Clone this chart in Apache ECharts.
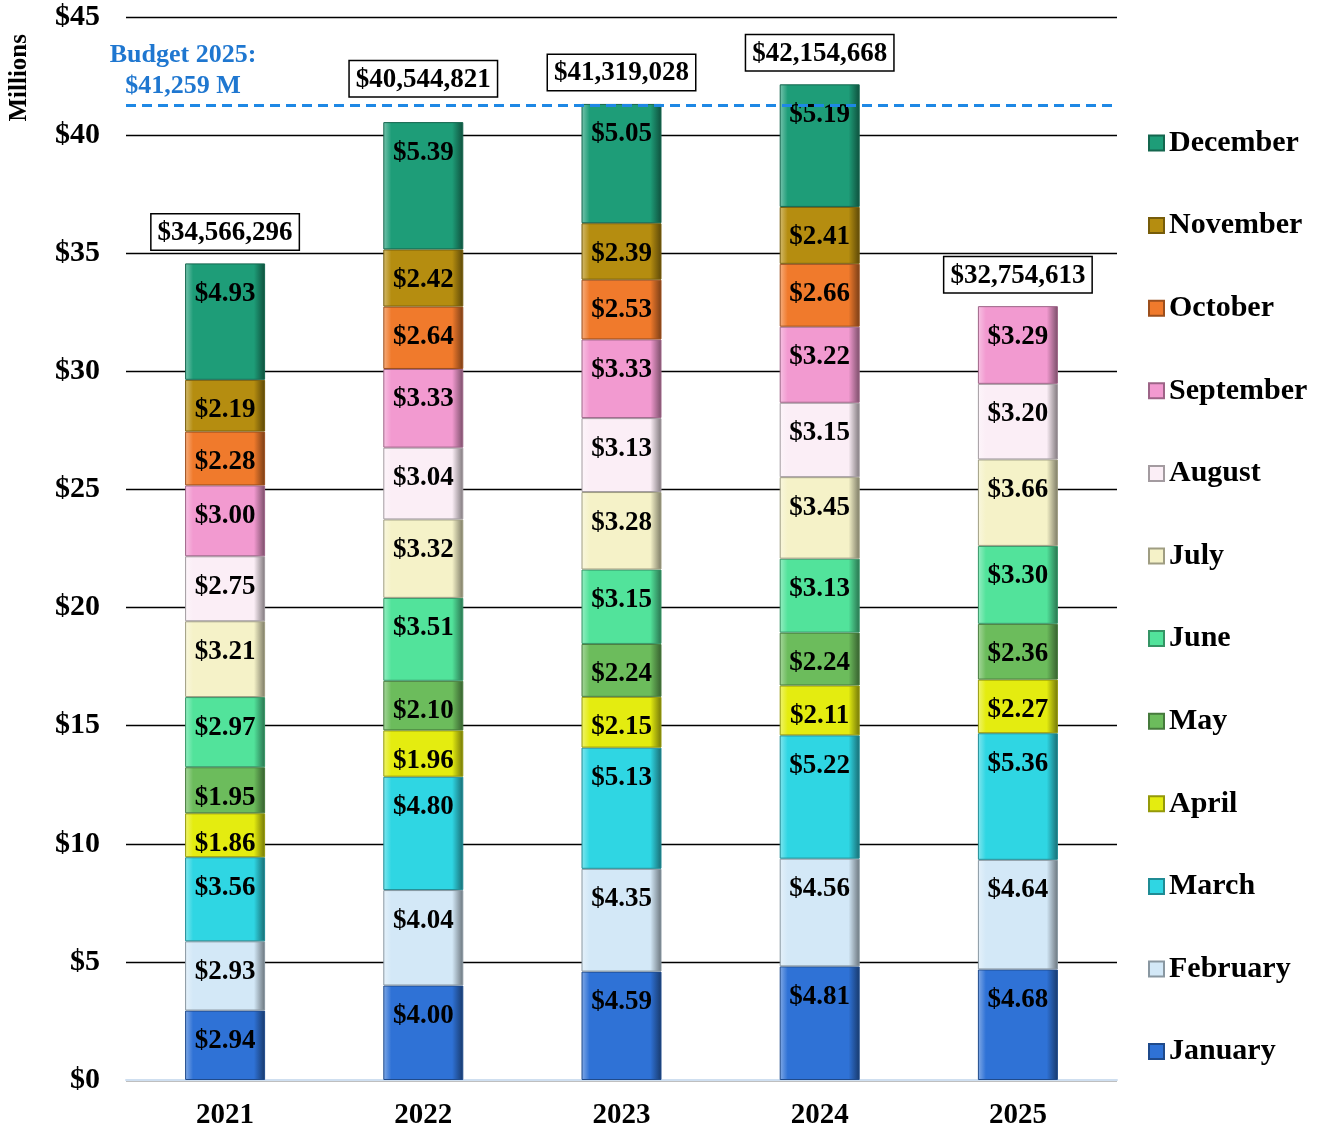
<!DOCTYPE html>
<html>
<head>
<meta charset="utf-8">
<script src="https://cdn.jsdelivr.net/npm/echarts@6/dist/echarts.min.js"></script>
<style>
  html, body { margin: 0; padding: 0; background: #fff; }
  #chart { width: 1321px; height: 1131px; }
</style>
</head>
<body>
<div id="chart"></div>
<script>
const years = ["2021", "2022", "2023", "2024", "2025"];
const months = ["January", "February", "March", "April", "May", "June",
  "July", "August", "September", "October", "November", "December"];
// monthly revenue in $ millions, one array per month (2021..2025)
const january = [2.94, 4.00, 4.59, 4.81, 4.68];
const february = [2.93, 4.04, 4.35, 4.56, 4.64];
const march = [3.56, 4.80, 5.13, 5.22, 5.36];
const april = [1.86, 1.96, 2.15, 2.11, 2.27];
const may = [1.95, 2.10, 2.24, 2.24, 2.36];
const june = [2.97, 3.51, 3.15, 3.13, 3.30];
const july = [3.21, 3.32, 3.28, 3.45, 3.66];
const august = [2.75, 3.04, 3.13, 3.15, 3.20];
const september = [3.00, 3.33, 3.33, 3.22, 3.29];
const october = [2.28, 2.64, 2.53, 2.66, null];
const november = [2.19, 2.42, 2.39, 2.41, null];
const december = [4.93, 5.39, 5.05, 5.19, null];
const totals = [34566296, 40544821, 41319028, 42154668, 32754613];
const budget = 41.259;
const yTicks = [0, 5, 10, 15, 20, 25, 30, 35, 40, 45];

const monthValues = [january, february, march, april, may, june,
  july, august, september, october, november, december];
const monthColors = ["#2f72d6", "#d3e8f7", "#2fd6e3", "#e4ec10", "#6cbc5c", "#52e39b",
  "#f5f2c8", "#fbeef6", "#f29ad0", "#f07a2c", "#b58d10", "#1e9d78"];

const serif = "'Times New Roman', 'Liberation Serif', serif";

function shade(hex, amt) {
  let n = parseInt(hex.slice(1), 16);
  let r = (n >> 16) & 255, g = (n >> 8) & 255, b = n & 255;
  const f = (c) => Math.max(0, Math.min(255, Math.round(amt > 0 ? c + (255 - c) * amt : c * (1 + amt))));
  return "rgb(" + f(r) + "," + f(g) + "," + f(b) + ")";
}

// bevel look: light left edge, dark right edge
function bevel(color) {
  return {
    type: "linear", x: 0, y: 0, x2: 1, y2: 0,
    colorStops: [
      { offset: 0, color: shade(color, 0.4) },
      { offset: 0.1, color: color },
      { offset: 0.86, color: color },
      { offset: 1, color: shade(color, -0.5) },
    ],
  };
}

const series = months.map((m, i) => ({
  name: m,
  type: "bar",
  stack: "total",
  barWidth: 80,
  data: monthValues[i],
  itemStyle: {
    color: bevel(monthColors[i]),
    borderColor: shade(monthColors[i], -0.35),
    borderWidth: 1,
  },
  label: {
    show: true,
    position: "insideTop",
    distance: 17,
    formatter: (p) => (p.value == null ? "" : "$" + p.value.toFixed(2)),
    color: "#000",
    fontFamily: serif,
    fontWeight: "bold",
    fontSize: 27,
  },
}));

// budget line on January series
series[0].markLine = {
  symbol: "none",
  silent: true,
  lineStyle: { color: "#1e88e5", type: [10, 6], width: 3 },
  data: [{ yAxis: budget }],
  label: {
    show: true,
    position: "insideStartTop",
    distance: [57, 4],
    formatter: "Budget 2025:\n$41,259 M",
    color: "#1f77d0",
    fontFamily: serif,
    fontWeight: "bold",
    fontSize: 26,
    align: "center",
    lineHeight: 31,
  },
};

// total labels above each bar (2022 sits a bit higher, clear of the budget line)
const totalGap = [14, 26, 14, 14, 14];
series.push({
  name: "Total",
  type: "scatter",
  symbolSize: 0,
  data: totals.map((t, i) => ({ value: t / 1e6, label: { distance: totalGap[i] } })),
  itemStyle: { color: "rgba(0,0,0,0)", opacity: 1 },
  label: {
    show: true,
    position: "top",
    formatter: (p) => "$" + totals[p.dataIndex].toLocaleString("en-US"),
    color: "#000",
    opacity: 1,
    fontFamily: serif,
    fontWeight: "bold",
    fontSize: 27,
    backgroundColor: "#fff",
    borderColor: "#000",
    borderWidth: 1.5,
    padding: [5, 6, 3, 6],
  },
  z: 5,
});

const chart = echarts.init(document.getElementById("chart"));
chart.setOption({
  animation: false,
  textStyle: { fontFamily: serif },
  grid: { left: 126, right: 204, top: 17, bottom: 51 },
  legend: {
    orient: "vertical",
    left: 1143,
    top: 123,
    itemGap: 52.6,
    itemWidth: 15,
    itemHeight: 15,
    icon: "rect",
    data: months.slice().reverse(),
    textStyle: { fontFamily: serif, fontWeight: "bold", fontSize: 30, color: "#000" },
  },
  xAxis: {
    type: "category",
    data: years,
    axisTick: { show: false },
    axisLine: { lineStyle: { color: "#cfdff0", width: 2 } },
    axisLabel: { color: "#000", fontFamily: serif, fontWeight: "bold", fontSize: 29, margin: 21 },
  },
  yAxis: {
    type: "value",
    min: yTicks[0],
    max: yTicks[yTicks.length - 1],
    interval: 5,
    axisLine: { show: false },
    axisTick: { show: false },
    splitLine: { lineStyle: { color: "#000", width: 1.3 } },
    axisLabel: {
      color: "#000", fontFamily: serif, fontWeight: "bold", fontSize: 30, margin: 26,
      formatter: (v) => "$" + v,
    },
  },
  graphic: [{
    type: "text",
    left: 7,
    top: 34,
    rotation: Math.PI / 2,
    style: { text: "Millions", fill: "#000", font: "bold 25px " + serif },
  }],
  series: series,
});
</script>
</body>
</html>
